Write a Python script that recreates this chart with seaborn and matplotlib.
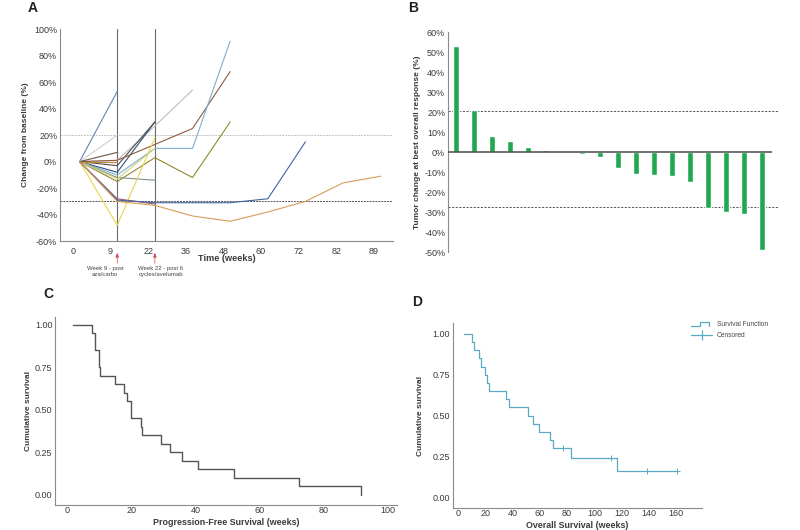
import numpy as np
import pandas as pd
import matplotlib
matplotlib.use("Agg")
import matplotlib.pyplot as plt
from matplotlib.lines import Line2D
from matplotlib.legend_handler import HandlerBase
import matplotlib.transforms as mtrans
import seaborn as sns

# ---------------- data ----------------
# Panel A: change from baseline (%) per patient at each assessment
time_labels = ["0", "9", "22", "36", "48", "60", "72", "82", "89"]
pt01 = [0, 53]
pt02 = [0, 20]
pt03 = [0, 1, 27, 54]
pt04 = [0, -8, 30]
pt05 = [0, -3, 30]
pt06 = [0, 1, 13, 25, 68]
pt07 = [0, -10, 10, 10, 91]
pt08 = [0, -15, 3, -12, 30]
pt09 = [0, -12, -14]
pt10 = [0, -48, 18]
pt11 = [0, -13, 10]
pt12 = [0, 7]
pt13 = [0, 0]
pt14 = [0, -28, -32]
pt15 = [0, -29, -31, -31, -31, -28, 15]
pt16 = [0, -30, -33, -41, -45, -38, -30, -16, -11]
patients_A = [pt01, pt02, pt03, pt04, pt05, pt06, pt07, pt08, pt09, pt10,
              pt11, pt12, pt13, pt14, pt15, pt16]
colors_A = ["#5f86b3", "#cfcfcf", "#bcbcbc", "#2d4d7c", "#4f4f4f", "#8e5b3a",
            "#7eaed0", "#8f8a2e", "#7f9682", "#e8d54c", "#d9cf78", "#6b5646",
            "#c08a3e", "#a0606a", "#3f63a0", "#d69d58"]
ref_lines_A = [20, -30]
marker_weeks_A = ["Week 9 - post\naza/carbo", "Week 22 - post 6\ncycles/avelumab"]

# Panel B: best overall response (%)
best_response = [53, 20.8, 7.8, 5.7, 2.3, 1.2, 0, -1, -2.5, -7.8, -10.8, -11.7,
                 -11.8, -15, -28, -30, -31, -49]
ref_lines_B = [20.5, -27.7]

# Panel C: progression-free survival (weeks), all events
pfs_start = 2.0
pfs_times = [7.7, 8.7, 8.7, 10.0, 10.0, 10.4, 15.0, 17.7, 18.7, 19.8, 19.8,
             22.9, 23.5, 29.4, 32.0, 35.8, 40.8, 52.0, 72.2, 91.7]
pfs_events = [1] * 20

# Panel D: overall survival (weeks)
os_start = 4.6
os_times = [10.5, 11.7, 15.6, 16.8, 20.2, 21.4, 22.6, 35.2, 37.7, 51.1, 55.3,
            59.7, 67.5, 69.9, 77.2, 82.6, 111.8, 116.7, 138.6, 160.7]
os_events = [1, 1, 1, 1, 1, 1, 1, 1, 1, 1, 1, 1, 1, 1, 0, 1, 0, 1, 0, 0]


# ---------------- helpers ----------------
def km(start, times, events):
    t = np.asarray(times, float)
    e = np.asarray(events, int)
    order = np.argsort(t, kind="stable")
    t, e = t[order], e[order]
    n = len(t)
    s = 1.0
    xs, ys = [start], [1.0]
    cens_x, cens_y = [], []
    for ut in np.unique(t):
        mask = t == ut
        at_risk = n - np.sum(t < ut)
        d = e[mask].sum()
        if d > 0:
            s *= 1 - d / at_risk
            xs.append(ut)
            ys.append(s)
        if (mask & (e == 0)).any():
            cens_x.append(ut)
            cens_y.append(s)
    if xs[-1] != t.max():
        xs.append(t.max())
        ys.append(s)
    return np.array(xs), np.array(ys), np.array(cens_x), np.array(cens_y)


class StepHandler(HandlerBase):
    def create_artists(self, legend, orig, xd, yd, w, h, fontsize, trans):
        xs = np.array([0.0, 0.4, 0.4, 0.85, 0.85]) * w - xd
        ys = np.array([0.1, 0.1, 0.9, 0.9, 0.1]) * h - yd
        ln = Line2D(xs, ys, color=orig.get_color(), lw=orig.get_linewidth(),
                    transform=trans)
        return [ln]


# ---------------- style ----------------
sns.set_theme(style="white")
plt.rcParams["font.family"] = ["Liberation Sans", "DejaVu Sans"]
plt.rcParams["axes.edgecolor"] = "#8a8a8a"
plt.rcParams["axes.linewidth"] = 0.8

TICK_FS = 6.5
LAB_FS = 6.0
TXT = "#3a3a3a"

fig = plt.figure(figsize=(8, 5.3), dpi=100)
axA = fig.add_axes([0.075, 0.545, 0.416, 0.400])
axB = fig.add_axes([0.560, 0.5245, 0.4125, 0.415])
axC = fig.add_axes([0.069, 0.047, 0.427, 0.355])
axD = fig.add_axes([0.566, 0.0415, 0.311, 0.349])

for ax in (axA, axB, axC, axD):
    ax.tick_params(length=0, labelsize=TICK_FS, colors=TXT, pad=2)
    for sp in ("top", "right"):
        ax.spines[sp].set_visible(False)

# ---------------- Panel A ----------------
offset = 0.18
rows = []
for i, series in enumerate(patients_A):
    for j, v in enumerate(series):
        rows.append({"patient": f"P{i + 1}", "pos": j + offset, "change": v})
dfA = pd.DataFrame(rows)
palA = {f"P{i + 1}": c for i, c in enumerate(colors_A)}
sns.lineplot(data=dfA, x="pos", y="change", hue="patient", palette=palA,
             estimator=None, sort=False, legend=False, lw=0.8, ax=axA)
axA.axhline(ref_lines_A[0], color="#c4c4c4", lw=0.7, ls=(0, (2, 1)), zorder=0)
axA.axhline(ref_lines_A[1], color="#555555", lw=0.7, ls=(0, (2, 1)), zorder=0)
for k in (1, 2):
    axA.axvline(k + offset, color="#6a6a6a", lw=0.8, zorder=0)
axA.set_xlim(-0.34, 8.5)
axA.set_ylim(-60, 100)
axA.set_xticks(range(len(time_labels)))
axA.set_xticklabels(time_labels)
yt = np.arange(-60, 101, 20)
axA.set_yticks(yt)
axA.set_yticklabels([f"{v}%" for v in yt])
axA.tick_params(axis="x", pad=4)
axA.set_xlabel("Time (weeks)", fontsize=LAB_FS + 0.6, fontweight="bold",
               color=TXT, labelpad=-1)
axA.set_ylabel("Change from baseline (%)", fontsize=LAB_FS, fontweight="bold",
               color=TXT, labelpad=4)
trA = mtrans.blended_transform_factory(axA.transData, axA.transAxes)
for k, (txt, tx) in enumerate(zip(marker_weeks_A, [0.86, 2.34])):
    axA.annotate("", xy=(k + 1 + offset, -0.055), xytext=(k + 1 + offset, -0.105),
                 xycoords=trA, textcoords=trA,
                 arrowprops=dict(arrowstyle="-|>,head_length=0.5,head_width=0.2",
                                 color="#d24a4a", lw=0.5, mutation_scale=5,
                                 shrinkA=0, shrinkB=0))
    axA.text(tx, -0.145, txt, transform=trA, ha="center", va="center",
             fontsize=4.3, color="#444444", linespacing=1.2)

# ---------------- Panel B ----------------
xB = np.arange(len(best_response))
sns.barplot(x=xB, y=best_response, color="#1fa84f", saturation=1, width=0.33,
            ax=axB)
axB.set_xlim(-0.44, 17.9)
axB.set_ylim(-50, 60)
axB.hlines(0, -0.44, 17.55, color="#4a4a4a", lw=1.1, zorder=3)
for v in ref_lines_B:
    axB.axhline(v, color="#555555", lw=0.7, ls=(0, (2.2, 1.5)), zorder=0)
axB.spines["bottom"].set_visible(False)
axB.set_xticks([])
ytB = np.arange(-50, 61, 10)
axB.set_yticks(ytB)
axB.set_yticklabels([f"{v}%" for v in ytB])
axB.set_ylabel("Tumor change at best overall response (%)", fontsize=LAB_FS,
               fontweight="bold", color=TXT, labelpad=2)
axB.set_xlabel("")

# ---------------- Panel C ----------------
cx, cy, _, _ = km(pfs_start, pfs_times, pfs_events)
sns.lineplot(x=cx, y=cy, drawstyle="steps-post", estimator=None, sort=False,
             color="#555555", lw=1.0, ax=axC)
axC.set_xlim(-3.7, 102.8)
axC.set_ylim(-0.06, 1.047)
axC.set_xticks(np.arange(0, 101, 20))
axC.set_yticks([0, 0.25, 0.5, 0.75, 1.0])
axC.set_yticklabels(["0.00", "0.25", "0.50", "0.75", "1.00"])
axC.tick_params(axis="x", pad=1)
axC.set_xlabel("Progression-Free Survival (weeks)", fontsize=LAB_FS + 0.4,
               fontweight="bold", color=TXT, labelpad=2)
axC.set_ylabel("Cumulative survival", fontsize=LAB_FS, fontweight="bold",
               color=TXT, labelpad=2)

# ---------------- Panel D ----------------
km_col = "#5aaac4"
dx, dy, dcx, dcy = km(os_start, os_times, os_events)
sns.lineplot(x=dx, y=dy, drawstyle="steps-post", estimator=None, sort=False,
             color=km_col, lw=0.9, ax=axD)
sns.scatterplot(x=dcx, y=dcy, marker="+", s=14, color=km_col, linewidth=0.7,
                ax=axD, legend=False)
axD.set_xlim(-3.7, 178.5)
axD.set_ylim(-0.067, 1.067)
axD.set_xticks(np.arange(0, 161, 20))
axD.set_yticks([0, 0.25, 0.5, 0.75, 1.0])
axD.set_yticklabels(["0.00", "0.25", "0.50", "0.75", "1.00"])
axD.tick_params(axis="x", pad=1)
axD.set_xlabel("Overall Survival (weeks)", fontsize=LAB_FS + 0.4,
               fontweight="bold", color=TXT, labelpad=2)
axD.set_ylabel("Cumulative survival", fontsize=LAB_FS, fontweight="bold",
               color=TXT, labelpad=6)

h_surv = Line2D([], [], color=km_col, lw=0.9)
h_cens = Line2D([], [], color=km_col, lw=0.9, marker="|", markersize=7,
                markeredgewidth=0.9)
fig.legend([h_surv, h_cens], ["Survival Function", "Censored"],
           handler_map={h_surv: StepHandler()},
           loc="upper left", bbox_to_anchor=(691 / 800, 1 - 321 / 530),
           frameon=False, fontsize=4.8, handlelength=3.2, handletextpad=0.7,
           borderpad=0, borderaxespad=0, labelspacing=0.6, numpoints=1,
           labelcolor="#444444")

# panel letters
for lab, x, y in [("A", 28, 8), ("B", 408, 8), ("C", 43, 294), ("D", 412, 302)]:
    fig.text(x / 800, 1 - y / 530, lab, fontsize=10, fontweight="bold",
             color="#222222", va="center", ha="left")

fig.savefig("out.png", dpi=100)
